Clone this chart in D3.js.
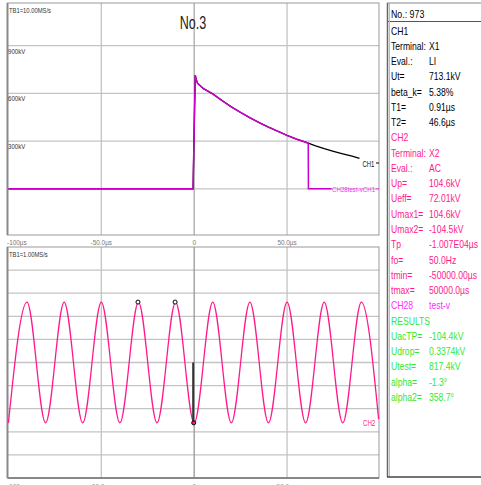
<!DOCTYPE html>
<html>
<head>
<meta charset="utf-8">
<script src="https://cdn.jsdelivr.net/npm/d3@7"></script>
<style>
  html, body { margin: 0; padding: 0; background: #fff; }
  svg { display: block; font-family: "Liberation Sans", Arial, sans-serif; }
</style>
</head>
<body>
<svg id="chart" width="481" height="485"></svg>
<script>
// impulse record (top panel), time in µs, voltage in kV
var impulseTime = [-100, -0.6, 0.2, 0.6, 1.0, 1.8, 5, 10, 15, 20, 25, 30, 35, 40, 45, 50, 55, 60, 61.4, 65, 70, 75, 80, 85, 89];
var ch1Values   = [0, 0, 500, 715, 690, 664, 630, 597, 555, 515, 480, 447, 416, 388, 362, 336, 313, 293, 287, 272, 253, 236, 220, 205, 192];
// CH28 test-v follows CH1 until it is cut at 61.4µs
var ch28Time   = [-100, -0.6, 0.2, 0.6, 1.0, 1.8, 5, 10, 15, 20, 25, 30, 35, 40, 45, 50, 55, 60, 61.4, 61.5, 74];
var ch28Values = [0, 0, 500, 715, 690, 664, 630, 597, 555, 515, 480, 447, 416, 388, 362, 336, 313, 293, 287, 0, 0];

// AC record (bottom panel), time in ms, extrema of the 50Hz wave in kV
var acTime   = [-100, -90, -80, -70, -60, -50, -40, -30, -20, -10, 0, 10, 20, 30, 40, 50, 60, 70, 80, 90, 99.3];
var acValues = [-104.5, 104.6, -104.5, 104.6, -104.5, 104.6, -104.5, 104.6, -104.5, 104.6, -104.5, 104.6, -104.5, 104.6, -104.5, 104.6, -104.5, 104.6, -104.5, 104.6, -98];
var acMarkTime = [-30, -10, 0];
var acMarkVal  = [104.6, 104.6, -104.5];

var kvTicks = [300, 600, 900];
var kvGrid = [0, 300, 600, 900];
var acGrid = [-160, -120, -80, -40, 0, 40, 80, 120, 160];
var timeGrid = [-50, 0, 50];
var usLabels = ["-100µs", "-50.0µs", "0", "50.0µs"];
var msLabels = ["-100ms", "-50.0ms", "0", "50.0ms"];
var labelTimes = [-100, -50, 0, 50];

// info panel rows
var infoLabels = ["CH1", "Terminal:", "Eval.:", "Ut=", "beta_k=", "T1=", "T2=",
  "CH2", "Terminal:", "Eval.:", "Up=", "Ueff=", "Umax1=", "Umax2=", "Tp", "fo=", "tmin=", "tmax=",
  "CH28", "RESULTS", "UacTP=", "Udrop=", "Utest=", "alpha=", "alpha2="];
var infoValues = ["", "X1", "LI", "713.1kV", "5.38%", "0.91µs", "46.6µs",
  "", "X2", "AC", "104.6kV", "72.01kV", "104.6kV", "-104.5kV", "-1.007E04µs", "50.0Hz", "-50000.00µs", "50000.0µs",
  "test-v", "", "-104.4kV", "0.3374kV", "817.4kV", "-1.3°", "358.7°"];
var infoGroup = [0,0,0,0,0,0,0, 1,1,1,1,1,1,1,1,1,1,1, 2, 3,3,3,3,3,3];
var groupColor = ["#000000", "#ff1a8c", "#ff2cff", "#33e833"];

var svg = d3.select("#chart");

// the instrument font is a condensed sans, so texts are squeezed horizontally
function narrowText(g, tx, ty, str, size, sx, color, anchor) {
  return g.append("text")
    .attr("transform", "translate(" + tx + "," + ty + ") scale(" + sx + ",1)")
    .attr("font-size", size).attr("fill", color)
    .attr("text-anchor", anchor || "start")
    .text(str);
}

var left = 7.5, right = 379;
var x = d3.scaleLinear().domain([-100.5, 99.5]).range([left, right]);

// ---------- top panel ----------
var yTop = d3.scaleLinear().domain([-290, 1168]).range([235, 3]);
var topG = svg.append("g");

topG.selectAll(".hg").data(kvGrid).enter().append("line")
  .attr("x1", left).attr("x2", right)
  .attr("y1", function(d) { return yTop(d); }).attr("y2", function(d) { return yTop(d); })
  .attr("stroke", "#c4c4c4").attr("stroke-width", 1.3);
topG.selectAll(".vg").data(timeGrid).enter().append("line")
  .attr("x1", function(d) { return x(d); }).attr("x2", function(d) { return x(d); })
  .attr("y1", 3).attr("y2", 235)
  .attr("stroke", function(d) { return d == 0 ? "#aaaaaa" : "#c4c4c4"; }).attr("stroke-width", 1.3);
topG.append("rect").attr("x", left).attr("y", 3).attr("width", right - left).attr("height", 232)
  .attr("fill", "none").attr("stroke", "#9a9a9a").attr("stroke-width", 1);
topG.append("line").attr("x1", left).attr("x2", left).attr("y1", 3).attr("y2", 235)
  .attr("stroke", "#888").attr("stroke-width", 2);

kvTicks.forEach(function(d) {
  narrowText(topG, 8, yTop(d) + 8, d + "kV", 7.8, 0.78, "#333");
});
narrowText(topG, 9, 12.5, "TB1=10.00MS/s", 7.8, 0.75, "#333");
narrowText(topG, 193, 29, "No.3", 19, 0.66, "#222", "middle");

var lineTop = function(ts, vs) {
  return d3.line().x(function(d, i) { return x(ts[i]); }).y(function(d) { return yTop(d); })(vs);
};
topG.append("path").attr("d", lineTop(impulseTime, ch1Values))
  .attr("fill", "none").attr("stroke", "#000").attr("stroke-width", 1.3);
topG.append("path").attr("d", lineTop(ch28Time, ch28Values))
  .attr("fill", "none").attr("stroke", "#cc00cc").attr("stroke-width", 1.5);

narrowText(topG, 362.5, yTop(ch1Values[ch1Values.length - 1]) + 8.5, "CH1", 8.2, 0.72, "#111");
topG.append("line").attr("x1", 376).attr("x2", 379).attr("y1", 163).attr("y2", 163).attr("stroke", "#000");
narrowText(topG, 332, yTop(0) + 3, "CH28test-vCH1", 8, 0.77, "#ff2cff");
topG.append("line").attr("x1", 375.5).attr("x2", 379).attr("y1", yTop(0)).attr("y2", yTop(0)).attr("stroke", "#ff2cff");

// labels between panels
usLabels.forEach(function(d, i) {
  narrowText(svg, i == 0 ? 7 : x(labelTimes[i]), 244.5, d, 7.8, 0.82, "#777", i == 0 ? "start" : "middle");
});

// ---------- bottom panel ----------
var yBot = d3.scaleLinear().domain([-200, 200]).range([478, 247]);
var bot = svg.append("g");

bot.selectAll(".hg").data(acGrid).enter().append("line")
  .attr("x1", left).attr("x2", right)
  .attr("y1", function(d) { return yBot(d); }).attr("y2", function(d) { return yBot(d); })
  .attr("stroke", "#c4c4c4").attr("stroke-width", 1.3);
bot.selectAll(".vg").data(timeGrid).enter().append("line")
  .attr("x1", function(d) { return x(d); }).attr("x2", function(d) { return x(d); })
  .attr("y1", 247).attr("y2", 478)
  .attr("stroke", function(d) { return d == 0 ? "#999" : "#c4c4c4"; }).attr("stroke-width", 1.3);
bot.append("rect").attr("x", left).attr("y", 247).attr("width", right - left).attr("height", 231)
  .attr("fill", "none").attr("stroke", "#9a9a9a").attr("stroke-width", 1);
bot.append("line").attr("x1", left).attr("x2", left).attr("y1", 247).attr("y2", 478)
  .attr("stroke", "#888").attr("stroke-width", 2);
bot.append("line").attr("x1", left).attr("x2", right).attr("y1", 478).attr("y2", 478)
  .attr("stroke", "#888").attr("stroke-width", 2);
narrowText(bot, 9, 257, "TB1=1.00MS/s", 7.8, 0.75, "#333");

bot.append("path")
  .attr("d", d3.line().x(function(d, i) { return x(acTime[i]); }).y(function(d) { return yBot(d); })
    .curve(d3.curveMonotoneX)(acValues))
  .attr("fill", "none").attr("stroke", "#ff1a8c").attr("stroke-width", 1.3);

bot.append("line").attr("x1", x(0) - 1).attr("x2", x(0) - 1).attr("y1", yBot(0)).attr("y2", yBot(acMarkVal[2]))
  .attr("stroke", "#333").attr("stroke-width", 2);
bot.selectAll(".mk").data(acMarkVal).enter().append("circle")
  .attr("cx", function(d, i) { return x(acMarkTime[i]) - 0.5; })
  .attr("cy", function(d) { return yBot(d); })
  .attr("r", 2).attr("fill", function(d, i) { return i == 2 ? "#ff1a8c" : "#fff"; })
  .attr("stroke", "#000").attr("stroke-width", 1);
narrowText(bot, 363, yBot(-104.5) + 3, "CH2", 8.2, 0.75, "#ff1a8c");

msLabels.forEach(function(d, i) {
  narrowText(svg, i == 0 ? 7 : x(labelTimes[i]), 488.5, d, 7.8, 0.82, "#999", i == 0 ? "start" : "middle");
});

// ---------- info panel ----------
var info = svg.append("g");
info.append("line").attr("x1", 387).attr("x2", 481).attr("y1", 3).attr("y2", 3).attr("stroke", "#888");
info.append("line").attr("x1", 387).attr("x2", 481).attr("y1", 21.5).attr("y2", 21.5).attr("stroke", "#555");
info.append("line").attr("x1", 387.5).attr("x2", 387.5).attr("y1", 3).attr("y2", 477).attr("stroke", "#666").attr("stroke-width", 1.5);
info.append("line").attr("x1", 389.5).attr("x2", 389.5).attr("y1", 3).attr("y2", 477).attr("stroke", "#bbb").attr("stroke-width", 1);
info.append("line").attr("x1", 387).attr("x2", 481).attr("y1", 477).attr("y2", 477).attr("stroke", "#444").attr("stroke-width", 1.5);
narrowText(info, 391, 17.8, "No.: 973", 10.5, 0.84, "#000");

infoLabels.forEach(function(lab, i) {
  var ty = 34.5 + i * 15.27;
  var col = groupColor[infoGroup[i]];
  narrowText(info, 391, ty, lab, 10.5, 0.82, col);
  if (infoValues[i]) narrowText(info, 429, ty, infoValues[i], 10.5, 0.82, col);
});
</script>
</body>
</html>
